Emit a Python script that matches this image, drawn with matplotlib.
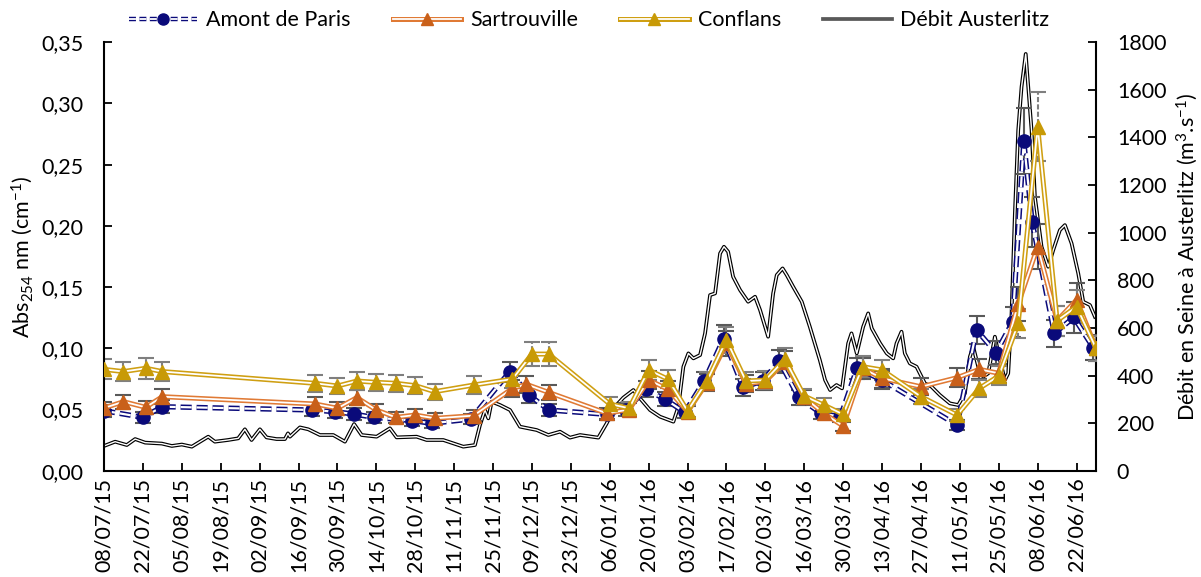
import pandas as pd
import matplotlib
matplotlib.use("Agg")
import matplotlib.pyplot as plt
from matplotlib.lines import Line2D
from matplotlib.ticker import FuncFormatter, MultipleLocator
from matplotlib.legend_handler import HandlerTuple

plt.rcParams["font.family"] = ["Lato", "DejaVu Sans"]
plt.rcParams["mathtext.fontset"] = "custom"
plt.rcParams["mathtext.rm"] = "Lato"
plt.rcParams["mathtext.it"] = "Lato"
plt.rcParams["lines.scale_dashes"] = False

start = pd.Timestamp("2015-07-08")

# jours depuis le 08/07/15
amont_days = [0, 14, 21, 75, 83, 90, 97, 111, 118, 132, 146, 153, 160, 181, 188, 195,
              202, 209, 216, 223, 230, 237, 243, 250, 258, 265, 271, 280, 307, 314,
              321, 327, 331, 334, 342, 349, 356]
amont_abs = [0.049, 0.0436, 0.0523, 0.0496, 0.0482, 0.0463, 0.0436, 0.0409, 0.0387,
             0.0422, 0.0809, 0.0618, 0.0496, 0.046, 0.050, 0.0665, 0.0583, 0.0477,
             0.0733, 0.108, 0.068, 0.0733, 0.0896, 0.060, 0.0469, 0.0441, 0.0837,
             0.074, 0.0373, 0.115, 0.0964, 0.1217, 0.2694, 0.2034, 0.1122, 0.1253,
             0.1005]

sart_days = [0, 7, 15, 21, 76, 84, 91, 98, 105, 112, 119, 133, 147, 152, 160, 181, 189,
             196, 203, 210, 217, 224, 231, 238, 245, 252, 259, 266, 273, 280, 294, 307,
             315, 322, 329, 336, 343, 350, 357]
sart_abs = [0.0512, 0.0564, 0.0518, 0.0605, 0.0545, 0.051, 0.0597, 0.0496, 0.0436,
            0.0455, 0.0428, 0.045, 0.0673, 0.0706, 0.064, 0.0469, 0.050, 0.0741,
            0.0665, 0.0482, 0.072, 0.104, 0.071, 0.073, 0.089, 0.060, 0.0469, 0.0365,
            0.0837, 0.0755, 0.0686, 0.076, 0.0828, 0.0796, 0.1362, 0.183, 0.1226,
            0.1395, 0.100]

conf_days = [0, 7, 15, 21, 76, 84, 91, 98, 105, 112, 119, 133, 147, 154, 160, 182, 189,
             196, 203, 210, 217, 224, 231, 238, 245, 252, 259, 266, 273, 280, 294, 307,
             315, 322, 329, 336, 343, 350, 357]
conf_abs = [0.0828, 0.081, 0.0837, 0.081, 0.0714, 0.0692, 0.0733, 0.0722, 0.0714,
            0.0695, 0.0646, 0.070, 0.0749, 0.0953, 0.0953, 0.0545, 0.051, 0.0823,
            0.0747, 0.0488, 0.0733, 0.1068, 0.0733, 0.074, 0.091, 0.061, 0.0537, 0.046,
            0.085, 0.0823, 0.0605, 0.0455, 0.0673, 0.0774, 0.1204, 0.281, 0.1226,
            0.134, 0.100]

debit_days = [0, 4, 8.2, 11.2, 14.8, 20.8, 24.4, 28, 31.6, 37.5, 39.9, 44.6, 48.3, 50.7,
              53.1, 56.1, 58.5, 62.1, 65.1, 66.2, 66.9, 70.5, 73.5, 77.7, 82.5, 86.7, 90,
              92.7, 98.1, 102.9, 105.3, 112.5, 116.1, 122.1, 129.3, 133.5, 135.3, 137.1,
              138.3, 139.5, 142.5, 146.1, 149.7, 155.7, 159.9, 164.1, 167.7, 171.3,
              177.9, 180.9, 183.9, 186.9, 190.5, 192.9, 196.5, 200.1, 204.9, 206.7,
              208.5, 210.3, 212.1, 214.5, 216.3, 218.1, 219.9, 221.7, 223.1, 224.6,
              226.4, 228.9, 231.8, 234.3, 236.1, 239, 240.8, 242.1, 244.2, 245.7, 248,
              251.1, 254, 257.6, 259.5, 261.3, 263.6, 265.6, 267.8, 269, 270.9, 273.2,
              275, 276.3, 279.3, 281.7, 284, 285.2, 287, 288.2, 290, 292.4, 295.4, 297.8,
              300.8, 304.4, 307.4, 309.8, 311.6, 312.8, 314.6, 316.4, 318.2, 320.6,
              322.4, 324.2, 325.4, 326.6, 327.8, 329, 330.2, 331.7, 333.8, 335, 337.4,
              339.8, 341.6, 344, 345.8, 348.2, 350.6, 352.4, 354.8, 356.6]
debit_q = [104, 122, 108, 133, 118, 114, 104, 110, 101, 143, 122, 129, 136, 174, 129,
           174, 140, 133, 133, 157, 143, 182, 174, 150, 150, 122, 196, 150, 143, 178,
           140, 143, 129, 129, 101, 108, 192, 255, 220, 290, 276, 255, 185, 171, 150,
           164, 139, 150, 139, 199, 269, 307, 339, 304, 255, 227, 206, 269, 437, 493,
           472, 486, 577, 738, 745, 913, 941, 920, 815, 759, 710, 731, 675, 563, 745,
           822, 850, 822, 773, 710, 605, 465, 381, 339, 360, 346, 535, 577, 493, 605,
           661, 598, 535, 493, 472, 535, 584, 493, 451, 437, 367, 353, 318, 283, 276,
           325, 479, 521, 437, 395, 409, 563, 465, 381, 409, 661, 1082, 1431, 1613,
           1751, 1431, 1151, 941, 857, 927, 1011, 1032, 955, 829, 710, 696, 647]

tick_dates = pd.date_range("2015-07-08", "2016-06-22", freq="14D")

FS = 15.5
c_amont = "#0a0a7a"
c_sart_l, c_sart_m = "#e07a35", "#c9601a"
c_conf_l, c_conf_m = "#cf9f12", "#c89a06"
amont_dash = (8, 3.5)


def to_dates(days):
    return start + pd.to_timedelta(days, unit="D")


def double_line(ax, x, y, color, lw_out, lw_in, z, dashes=None):
    kw = {} if dashes is None else {"dashes": dashes}
    ax.plot(x, y, color=color, lw=lw_out, zorder=z, **kw)
    ax.plot(x, y, color="white", lw=lw_in, zorder=z + 0.01, **kw)


def proxy(color, lw_out, lw_in, marker=None, mcolor=None, dashes=None):
    kw = {} if dashes is None else {"dashes": dashes}
    h = [Line2D([], [], color=color, lw=lw_out, **kw),
         Line2D([], [], color="white", lw=lw_in, **kw)]
    if marker:
        h.append(Line2D([], [], ls="none", marker=marker, ms=8, color=mcolor))
    return tuple(h)


fig = plt.figure(figsize=(12.01, 5.77), dpi=100)
ax = fig.add_axes([0.0866, 0.1842, 0.826, 0.7425])
ax2 = ax.twinx()
ax.set_zorder(ax2.get_zorder() + 1)
ax.patch.set_visible(False)

# débit (axe secondaire)
double_line(ax2, to_dates(debit_days), debit_q, "black", 2.7, 1.0, 2)

# Amont de Paris
x = to_dates(amont_days)
ax.errorbar(x, amont_abs, yerr=[0.1 * v for v in amont_abs], fmt="none",
            ecolor="#595959", elinewidth=1.5, capsize=6, capthick=1.5, zorder=2)
double_line(ax, x, amont_abs, c_amont, 3.8, 1.6, 3, dashes=amont_dash)
ax.plot(x, amont_abs, ls="none", marker="o", ms=9.5, color=c_amont, zorder=4)

# Sartrouville
x = to_dates(sart_days)
ax.errorbar(x, sart_abs, yerr=[0.1 * v for v in sart_abs], fmt="none",
            ecolor="#595959", elinewidth=1.5, capsize=6, capthick=1.5, zorder=2)
double_line(ax, x, sart_abs, c_sart_l, 3.6, 1.3, 5)
ax.plot(x, sart_abs, ls="none", marker="^", ms=9.5, color=c_sart_m, zorder=6)

# Conflans
x = to_dates(conf_days)
eb = ax.errorbar(x, conf_abs, yerr=[0.1 * v for v in conf_abs], fmt="none",
                 ecolor="#7f7f7f", elinewidth=1.5, capsize=6, capthick=1.5, zorder=2)
eb[2][0].set_linestyle("--")
double_line(ax, x, conf_abs, c_conf_l, 3.6, 1.3, 7)
ax.plot(x, conf_abs, ls="none", marker="^", ms=9.5, color=c_conf_m, zorder=8)

# axes
ax.set_xlim(start, start + pd.Timedelta(days=357))
ax.set_ylim(0, 0.35)
ax2.set_ylim(0, 1800)
ax.yaxis.set_major_locator(MultipleLocator(0.05))
ax2.yaxis.set_major_locator(MultipleLocator(200))
ax.yaxis.set_major_formatter(FuncFormatter(lambda v, p: f"{v:.2f}".replace(".", ",")))
ax.set_xticks(tick_dates)
ax.set_xticklabels([d.strftime("%d/%m/%y") for d in tick_dates], rotation=90)

for a in (ax, ax2):
    a.spines["top"].set_visible(False)
    for s in ("left", "right", "bottom"):
        a.spines[s].set_linewidth(1.5)
    a.tick_params(direction="in", length=6, width=1.3, labelsize=FS)
ax.spines["right"].set_visible(False)
ax2.spines["left"].set_visible(False)
ax2.spines["bottom"].set_visible(False)
ax.tick_params(axis="x", pad=5)
ax.tick_params(axis="y", pad=15)
ax2.tick_params(axis="y", pad=15)

ax.set_ylabel("Abs$_{254}$ nm (cm$^{-1}$)", fontsize=FS, labelpad=4)
ax2.set_ylabel("Débit en Seine à Austerlitz (m$^{3}$.s$^{-1}$)", fontsize=FS, labelpad=6)

handles = [proxy(c_amont, 3.2, 1.3, "o", c_amont, dashes=(5, 2.5)),
           proxy(c_sart_l, 3.6, 1.3, "^", c_sart_m),
           proxy(c_conf_l, 3.6, 1.3, "^", c_conf_m),
           proxy("#595959", 2.7, 0.0)]
labels = ["Amont de Paris", "Sartrouville", "Conflans", "Débit Austerlitz"]
fig.legend(handles, labels, handler_map={tuple: HandlerTuple(ndivide=1, pad=0)},
           loc="center", bbox_to_anchor=(0.4904, 0.965), ncol=4, frameon=False,
           fontsize=FS, handlelength=3.2, columnspacing=1.95, handletextpad=0.4)

fig.savefig("out.png", dpi=100)
